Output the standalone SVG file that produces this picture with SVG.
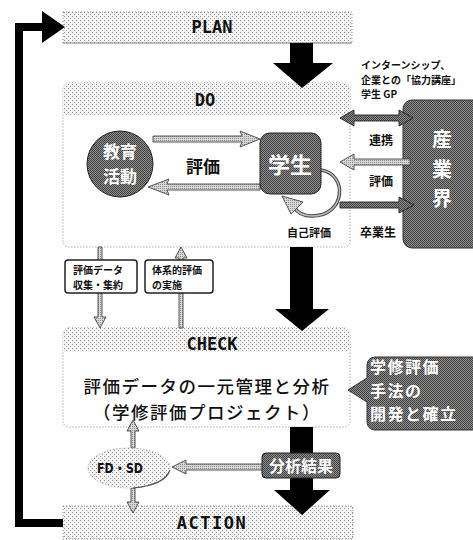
<svg xmlns="http://www.w3.org/2000/svg" width="473" height="540" viewBox="0 0 473 540">
<defs>
<pattern id="dots" width="4" height="4" patternUnits="userSpaceOnUse">
<rect width="4" height="4" fill="#f4f4f4"/>
<rect x="0" y="0" width="1" height="1" fill="#8a8a8a"/>
<rect x="2" y="2" width="1" height="1" fill="#a0a0a0"/>
</pattern>
<pattern id="dark" width="2" height="2" patternUnits="userSpaceOnUse">
<rect width="2" height="2" fill="#8e8e8e"/>
<rect x="0" y="0" width="1" height="1" fill="#3e3e3e"/>
<rect x="1" y="1" width="1" height="1" fill="#444"/>
</pattern>
<pattern id="light" width="2" height="2" patternUnits="userSpaceOnUse">
<rect width="2" height="2" fill="#d8d8d8"/>
<rect x="0" y="0" width="1" height="1" fill="#8a8a8a"/>
</pattern>
<style>
.ttl{font-family:"DejaVu Sans Mono","Liberation Mono",monospace;font-weight:bold;font-size:17px;fill:#111;text-anchor:middle}
.jp{font-family:"Noto Sans CJK JP",sans-serif;font-weight:bold;fill:#111}
.wt{font-family:"Noto Sans CJK JP",sans-serif;font-weight:bold;fill:#fff}
.box{stroke:#888;stroke-width:1;stroke-dasharray:1 2}
.la{fill:url(#light);stroke:#444;stroke-width:0.9}
.da{fill:url(#dark);stroke:#222;stroke-width:0.9}
</style>
</defs>

<!-- PLAN -->
<g id="plan">
<rect x="63" y="12" width="289" height="31" fill="url(#dots)" class="box"/>
<line x1="63" y1="43" x2="352" y2="43" stroke="#777" stroke-dasharray="2 1"/>
<text x="212" y="33" class="ttl">PLAN</text>
</g>

<!-- DO -->
<g id="do">
<rect x="63" y="83" width="287" height="164" rx="6" fill="#fff" class="box"/>
<path d="M63 115 V89 a6 6 0 0 1 6 -6 H344 a6 6 0 0 1 6 6 V115 Z" fill="url(#dots)"/>
<text x="205" y="106" class="ttl">DO</text>
</g>

<!-- industry -->
<g id="sangyokai">
<rect x="403" y="100" width="80" height="148" rx="9" fill="url(#dark)" stroke="#333" stroke-width="1"/>
<text x="442" y="147" class="wt" font-size="20" text-anchor="middle">産</text>
<text x="442" y="176.5" class="wt" font-size="20" text-anchor="middle">業</text>
<text x="442" y="206" class="wt" font-size="20" text-anchor="middle">界</text>
</g>

<!-- CHECK -->
<g id="check">
<rect x="63" y="328" width="287" height="99" rx="6" fill="#fff" class="box"/>
<path d="M63 352 V334 a6 6 0 0 1 6 -6 H344 a6 6 0 0 1 6 6 V352 Z" fill="url(#dots)"/>
<text x="212" y="350" class="ttl">CHECK</text>
<text x="207" y="393" class="jp" font-size="17.5" letter-spacing="1.5" text-anchor="middle" style="font-weight:500">評価データの一元管理と分析</text>
<text x="207" y="419" class="jp" font-size="17.5" letter-spacing="1.5" text-anchor="middle" style="font-weight:500">（学修評価プロジェクト）</text>
</g>

<!-- ACTION -->
<g id="action">
<rect x="63" y="506" width="290" height="33" fill="url(#dots)" class="box"/>
<text x="212" y="529" class="ttl" letter-spacing="1.5">ACTION</text>
</g>

<!-- connectors -->
<g id="connectors">
<!-- feedback loop -->
<polyline points="63,523 19,523 19,27 46,27" fill="none" stroke="#000" stroke-width="8"/>
<polygon points="42,11 65,27 42,43" fill="#000"/>
<!-- big arrows -->
<polygon points="290,43 313,43 313,63 333,63 302,88 273,63 290,63" fill="#000"/>
<polygon points="290,247 313,247 313,309 329,309 302,331 275,309 290,309" fill="#000"/>
<polygon points="290,427 313,427 313,490 330,490 302,515 274,490 290,490" fill="#000"/>
<!-- evaluation arrows in DO -->
<polygon class="la" points="153,136 242,136 240,131 260,139 240,147 242,142 153,142"/>
<polygon class="la" points="260,184 167,184 169,179 148,187 169,195 167,190 260,190"/>
<!-- self evaluation loop -->
<path d="M321 170 C348 174 346 216 312 216 C303 216 297 212 294 207" fill="none" stroke="#444" stroke-width="3.5"/>
<path d="M321 170 C348 174 346 216 312 216 C303 216 297 212 294 207" fill="none" stroke="#bbb" stroke-width="1.5"/>
<polygon class="la" points="282,196 303,202 291,214"/>
<!-- industry arrows -->
<polygon class="da" points="340,118 354,110 354,115 399,115 399,110 413,118 399,126 399,121 354,121 354,126"/>
<polygon class="la" points="410,159 354,159 354,154 340,162 354,170 354,165 410,165"/>
<polygon class="da" points="340,202 399,202 399,197 414,205 399,213 399,208 340,208"/>
<!-- DO <-> CHECK small arrows -->
<polygon class="la" points="98,247 102,247 102,317 106,317 100,328 94,317 98,317"/>
<polygon class="la" points="179,328 183,328 183,258 187,258 181,247 175,258 179,258"/>
<!-- FD SD arrows -->
<polygon class="la" points="131,448 135,448 135,431 139,431 133,420 127,431 131,431"/>
<polygon class="la" points="131,488 135,488 135,502 139,502 133,513 127,502 131,502"/>
<polygon class="la" points="263,464 186,464 186,460 172,467 186,474 186,470 263,470"/>
</g>

<g id="kyoiku">
<circle cx="120" cy="164" r="33" fill="url(#dark)" stroke="#222" stroke-width="1"/>
<text x="120" y="158" class="wt" font-size="17" text-anchor="middle">教育</text>
<text x="120" y="183" class="wt" font-size="17" text-anchor="middle">活動</text>
</g>

<g id="gakusei">
<rect x="260" y="133" width="61" height="61" rx="10" fill="url(#dark)" stroke="#222" stroke-width="1"/>
<text x="290" y="173" class="wt" font-size="22" text-anchor="middle">学生</text>
</g>

<g id="hyoka-label">
<text x="203" y="173" class="jp" font-size="17" text-anchor="middle">評価</text>
<text x="309" y="237" class="jp" font-size="11" text-anchor="middle">自己評価</text>
</g>

<g id="industry-labels">
<text x="361" y="69" class="jp" font-size="10">インターンシップ、</text>
<text x="361" y="83.5" class="jp" font-size="10">企業との「協力講座」</text>
<text x="361" y="98" class="jp" font-size="10">学生 GP</text>
<text x="381" y="145" class="jp" font-size="12" text-anchor="middle">連携</text>
<text x="381" y="186" class="jp" font-size="12" text-anchor="middle">評価</text>
<text x="378" y="237" class="jp" font-size="12" text-anchor="middle">卒業生</text>
</g>

<!-- small boxes -->
<g id="collect">
<rect x="65" y="260" width="72" height="33" rx="3" fill="#fff" stroke="#222" stroke-width="1.5"/>
<text x="73" y="274" class="jp" font-size="10">評価データ</text>
<text x="73" y="288.5" class="jp" font-size="10">収集・集約</text>
</g>
<g id="implement">
<rect x="145" y="260" width="68" height="33" rx="3" fill="#fff" stroke="#222" stroke-width="1.5"/>
<text x="152" y="274" class="jp" font-size="10">体系的評価</text>
<text x="152" y="288.5" class="jp" font-size="10">の実施</text>
</g>

<g id="method">
<path d="M367 365 a8 8 0 0 1 8 -8 H480 V430 H375 a8 8 0 0 1 -8 -8 V402 L348 390 L367 378 Z" fill="url(#dark)" stroke="#333" stroke-width="1"/>
<text x="370" y="373" class="wt" font-size="16" letter-spacing="1.5">学修評価</text>
<text x="370" y="396.5" class="wt" font-size="16" letter-spacing="1.5">手法の</text>
<text x="370" y="420" class="wt" font-size="16" letter-spacing="1.5">開発と確立</text>
</g>

<!-- FD SD -->
<g id="fdsd">
<ellipse cx="129" cy="468" rx="41" ry="20" fill="url(#dots)" stroke="#999" stroke-width="1" stroke-dasharray="1 2"/>
<path d="M170 470 Q165 485 133 488" fill="none" stroke="#555" stroke-width="1.2"/>
<text x="97" y="473" font-family="'DejaVu Sans Condensed','Noto Sans CJK JP',sans-serif" font-weight="bold" font-size="14" fill="#111" textLength="46" lengthAdjust="spacingAndGlyphs">FD・SD</text>
</g>

<g id="bunseki">
<rect x="262" y="453" width="78" height="25" rx="4" fill="url(#dark)" stroke="#222" stroke-width="1"/>
<text x="301" y="472" class="wt" font-size="16" text-anchor="middle">分析結果</text>
</g>
</svg>
